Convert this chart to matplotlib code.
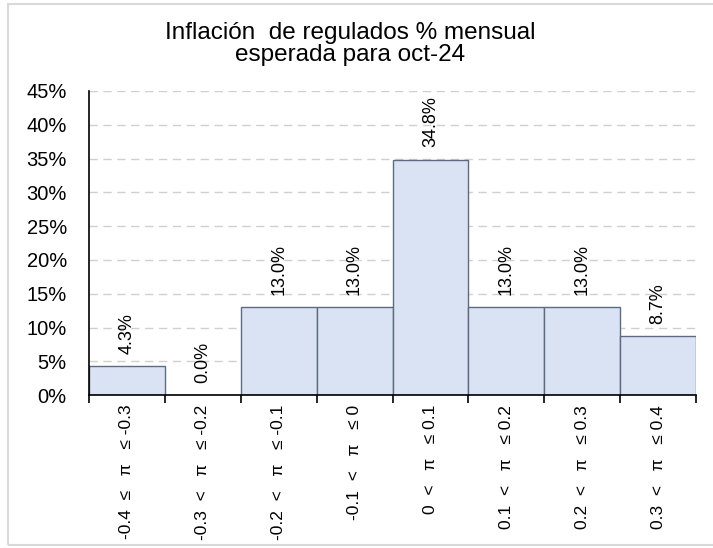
import matplotlib.pyplot as plt
import numpy as np
from matplotlib.patches import Rectangle
from matplotlib.ticker import FixedLocator, PercentFormatter

plt.rcParams['font.family'] = ['Liberation Sans', 'DejaVu Sans']

# datos del gráfico
categorias = ["-0.4  ≤   π   ≤ -0.3", "-0.3  <   π   ≤ -0.2", "-0.2  <   π   ≤ -0.1",
              "-0.1  <   π   ≤ 0", "0  <   π   ≤ 0.1", "0.1  <   π   ≤ 0.2",
              "0.2  <   π   ≤ 0.3", "0.3  <   π   ≤ 0.4"]
valores = [4.3, 0.0, 13.0, 13.0, 34.8, 13.0, 13.0, 8.7]
y_ticks = [0, 5, 10, 15, 20, 25, 30, 35, 40, 45]
titulo = "Inflación  de regulados % mensual\nesperada para oct-24"

fig = plt.figure(figsize=(7.13, 5.48), dpi=100)
ax = fig.add_axes([0.1248, 0.279, 0.8515, 0.555])

x = np.arange(len(categorias))
ax.bar(x, valores, width=1.0, color='#dae3f3', edgecolor='#5b6b82', linewidth=1.0, zorder=3)

# etiquetas de valor
for xi, v in zip(x, valores):
    ax.annotate(f"{v:.1f}%", (xi, v), xytext=(0, 9), textcoords='offset points',
                rotation=90, ha='center', va='bottom', fontsize=13)

ax.set_xlim(-0.5, len(categorias) - 0.5)
ax.set_ylim(0, 45)
ax.set_yticks(y_ticks)
ax.yaxis.set_major_formatter(PercentFormatter(decimals=0))
ax.tick_params(axis='y', length=0, labelsize=14.5, pad=16)

ax.set_xticks(x)
ax.set_xticklabels(categorias, rotation=90, fontsize=12.5)
ax.tick_params(axis='x', which='major', length=0, pad=7)
ax.xaxis.set_minor_locator(FixedLocator(np.arange(-0.5, len(categorias), 1.0)))
ax.tick_params(axis='x', which='minor', length=6, width=1.2, direction='out')

ax.grid(axis='y', linestyle=(0, (6, 4)), color='#d0d0d0', linewidth=1.0, zorder=0)
for s in ['top', 'right']:
    ax.spines[s].set_visible(False)
for s in ['left', 'bottom']:
    ax.spines[s].set_linewidth(1.2)
    ax.spines[s].set_zorder(4)

fig.text(0.491, 0.919, titulo, ha='center', va='center', fontsize=17.5, linespacing=1.0)

# marco exterior
fig.patches.append(Rectangle((8 / 713, 3 / 548), 1.0, 1 - 7 / 548, transform=fig.transFigure,
                             fill=False, edgecolor='#d9d9d9', linewidth=1.5))

fig.savefig('out.png', dpi=100)
